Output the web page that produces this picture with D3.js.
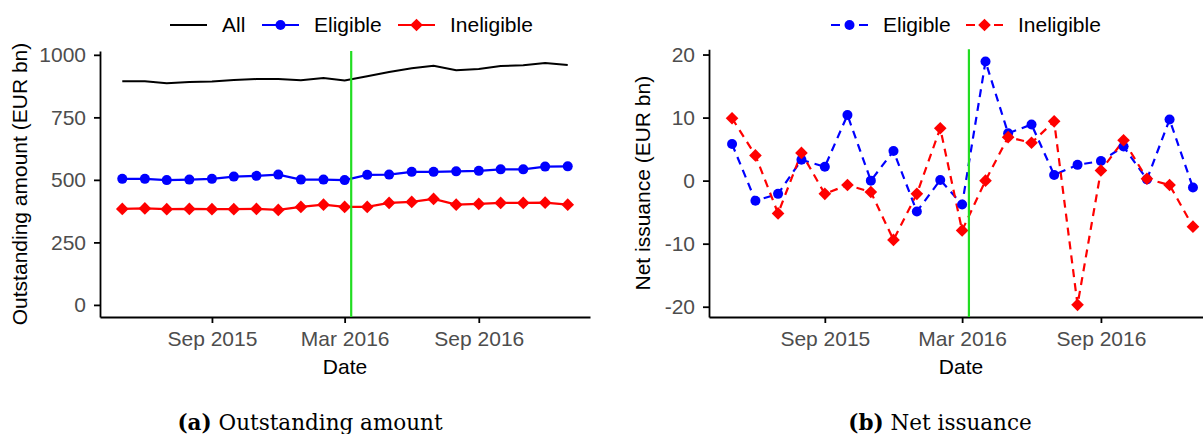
<!DOCTYPE html>
<html lang="en">
<head>
  <meta charset="UTF-8">
  <title>Outstanding amount and net issuance</title>
  <script src="https://d3js.org/d3.v7.min.js"></script>
  <style>
    body {
      margin: 0;
      background: #fff;
    }

    svg {
      display: block;
      font-family: "Liberation Sans", Arial, sans-serif;
    }

    .tick text {
      font-size: 21px;
      fill: #4d4d4d;
    }

    .axis path, .axis line {
      stroke: #000;
      stroke-width: 1.8;
    }

    .axis-title, .legend text {
      font-size: 21px;
      fill: #000;
    }

    .caption {
      font-family: "DejaVu Serif", "Liberation Serif", serif;
      font-size: 21.5px;
      fill: #000;
    }
  </style>
</head>
<body>
  <svg id="chart" width="1203" height="434"></svg>

  <script>
    // monthly observations
    const months = [
      "2015-05-01", "2015-06-01", "2015-07-01", "2015-08-01", "2015-09-01", "2015-10-01",
      "2015-11-01", "2015-12-01", "2016-01-01", "2016-02-01", "2016-03-01", "2016-04-01",
      "2016-05-01", "2016-06-01", "2016-07-01", "2016-08-01", "2016-09-01", "2016-10-01",
      "2016-11-01", "2016-12-01", "2017-01-01"
    ];

    // (a) outstanding amount, EUR bn
    const allOut      = [894, 894, 886, 891, 893, 899, 903, 903, 898, 907, 897, 914, 931, 946, 956, 938, 943, 955, 958, 967, 959];
    const eligibleOut = [504, 504, 499, 501, 504, 513, 516, 521, 501, 501, 499, 520, 521, 532, 532, 534, 536, 542, 542, 553, 554];
    const ineligOut   = [384, 386, 383, 384, 383, 383, 384, 380, 392, 401, 392, 392, 408, 412, 424, 401, 404, 408, 408, 409, 401];

    // (b) net issuance, EUR bn
    const eligibleNet = [5.8, -3.2, -2.1, 3.3, 2.2, 10.4, 0.0, 4.7, -4.9, 0.1, -3.8, 18.9, 7.5, 8.9, 0.9, 2.5, 3.1, 5.4, 0.2, 9.7, -1.1];
    const ineligNet   = [9.9, 4.0, -5.2, 4.4, -2.1, -0.7, -1.8, -9.4, -2.1, 8.3, -7.9, 0.0, 6.9, 6.0, 9.4, -19.7, 1.6, 6.4, 0.3, -0.7, -7.3];

    const outTicks = [0, 250, 500, 750, 1000];
    const netTicks = [-20, -10, 0, 10, 20];
    const dateTicks = ["2015-09-01", "2016-03-01", "2016-09-01"];
    const eventDate = "2016-03-10";

    const parse = d3.timeParse("%Y-%m-%d");
    const dates = months.map(parse);

    const BLUE = "#0000ff", RED = "#ff0000", GREEN = "#22dd22";

    const svg = d3.select("#chart");

    // ggplot-like 5% expansion
    function expand(ext) {
      const pad = (ext[1] - ext[0]) * 0.05;
      return [ext[0] - pad, ext[1] + pad];
    }
    function expandTime(ext) {
      const pad = (ext[1] - ext[0]) * 0.05;
      return [new Date(+ext[0] - pad), new Date(+ext[1] + pad)];
    }

    const diamond = d3.symbol().type(d3.symbolSquare).size(80);

    function drawPanel(opt) {
      const g = svg.append("g");

      const x = d3.scaleTime()
        .domain(expandTime(d3.extent(dates)))
        .range(opt.xRange);
      const y = d3.scaleLinear()
        .domain(expand(opt.yExtent))
        .range(opt.yRange);

      // axes
      g.append("g")
        .attr("class", "axis")
        .attr("transform", `translate(0,${opt.yRange[0]})`)
        .call(d3.axisBottom(x)
          .tickValues(dateTicks.map(parse))
          .tickFormat(d3.timeFormat("%b %Y"))
          .tickSize(6).tickSizeOuter(0).tickPadding(8));

      g.append("g")
        .attr("class", "axis")
        .attr("transform", `translate(${opt.xRange[0]},0)`)
        .call(d3.axisLeft(y)
          .tickValues(opt.yTicks)
          .tickFormat(d => String(d))
          .tickSize(6).tickSizeOuter(0).tickPadding(8));

      // axis titles
      g.append("text")
        .attr("class", "axis-title")
        .attr("x", opt.dateX)
        .attr("y", 374)
        .attr("text-anchor", "middle")
        .text("Date");

      g.append("text")
        .attr("class", "axis-title")
        .attr("transform", `translate(${opt.titleX},${(opt.yRange[0] + opt.yRange[1]) / 2}) rotate(-90)`)
        .attr("dy", "0.35em")
        .attr("text-anchor", "middle")
        .text(opt.yTitle);

      // lines first, then points (like ggplot layers)
      opt.series.forEach(s => {
        g.append("path")
          .datum(s.values)
          .attr("fill", "none")
          .attr("stroke", s.color)
          .attr("stroke-width", s.width)
          .attr("stroke-dasharray", s.dash || null)
          .attr("d", d3.line()
            .x((d, i) => x(dates[i]))
            .y(d => y(d)));
      });

      opt.series.forEach(s => {
        if (s.shape === "circle") {
          g.selectAll(null)
            .data(s.values)
            .enter().append("circle")
            .attr("cx", (d, i) => x(dates[i]))
            .attr("cy", d => y(d))
            .attr("r", 5)
            .attr("fill", s.color);
        } else if (s.shape === "diamond") {
          g.selectAll(null)
            .data(s.values)
            .enter().append("path")
            .attr("d", diamond)
            .attr("transform", (d, i) => `translate(${x(dates[i])},${y(d)}) rotate(45)`)
            .attr("fill", s.color);
        }
      });

      // event marker
      g.append("line")
        .attr("x1", x(parse(eventDate)))
        .attr("x2", x(parse(eventDate)))
        .attr("y1", opt.yRange[1])
        .attr("y2", opt.yRange[0])
        .attr("stroke", GREEN)
        .attr("stroke-width", 2.2);

      // legend
      const lg = g.append("g").attr("class", "legend");
      opt.legend.forEach(item => {
        const s = opt.series.find(d => d.name === item.name);
        lg.append("line")
          .attr("x1", item.x).attr("x2", item.x + 37)
          .attr("y1", 25).attr("y2", 25)
          .attr("stroke", s.color)
          .attr("stroke-width", s.width)
          .attr("stroke-dasharray", s.dash ? "9,5" : null);
        if (s.shape === "circle") {
          lg.append("circle")
            .attr("cx", item.x + 18.5).attr("cy", 25).attr("r", 5)
            .attr("fill", s.color);
        } else if (s.shape === "diamond") {
          lg.append("path")
            .attr("d", diamond)
            .attr("transform", `translate(${item.x + 18.5},25) rotate(45)`)
            .attr("fill", s.color);
        }
        lg.append("text")
          .attr("x", item.x + 52)
          .attr("y", 25)
          .attr("dy", "0.35em")
          .text(item.name);
      });
    }

    // ============================
    // (a) Outstanding amount
    // ============================
    drawPanel({
      xRange: [100, 590],
      yRange: [317, 51],
      yExtent: [0, d3.max(allOut)],
      yTicks: outTicks,
      yTitle: "Outstanding amount (EUR bn)",
      titleX: 20,
      dateX: 345,
      series: [
        { name: "All", values: allOut, color: "#000", width: 2, shape: null },
        { name: "Eligible", values: eligibleOut, color: BLUE, width: 2.2, shape: "circle" },
        { name: "Ineligible", values: ineligOut, color: RED, width: 2.2, shape: "diamond" }
      ],
      legend: [
        { name: "All", x: 170 },
        { name: "Eligible", x: 262 },
        { name: "Ineligible", x: 398 }
      ]
    });

    // ============================
    // (b) Net issuance
    // ============================
    drawPanel({
      xRange: [709, 1216],
      yRange: [317, 49.3],
      yExtent: d3.extent(eligibleNet.concat(ineligNet)),
      yTicks: netTicks,
      yTitle: "Net issuance (EUR bn)",
      titleX: 643,
      dateX: 961,
      series: [
        { name: "Eligible", values: eligibleNet, color: BLUE, width: 2.2, dash: "8,6", shape: "circle" },
        { name: "Ineligible", values: ineligNet, color: RED, width: 2.2, dash: "8,6", shape: "diamond" }
      ],
      legend: [
        { name: "Eligible", x: 831 },
        { name: "Ineligible", x: 966 }
      ]
    });

    // captions
    const cap = [
      { x: 310, tag: "(a)", label: " Outstanding amount" },
      { x: 940, tag: "(b)", label: " Net issuance" }
    ];
    cap.forEach(c => {
      const t = svg.append("text")
        .attr("class", "caption")
        .attr("x", c.x)
        .attr("y", 430)
        .attr("text-anchor", "middle");
      t.append("tspan").attr("font-weight", "bold").text(c.tag);
      t.append("tspan").text(c.label);
    });
  </script>
</body>
</html>
